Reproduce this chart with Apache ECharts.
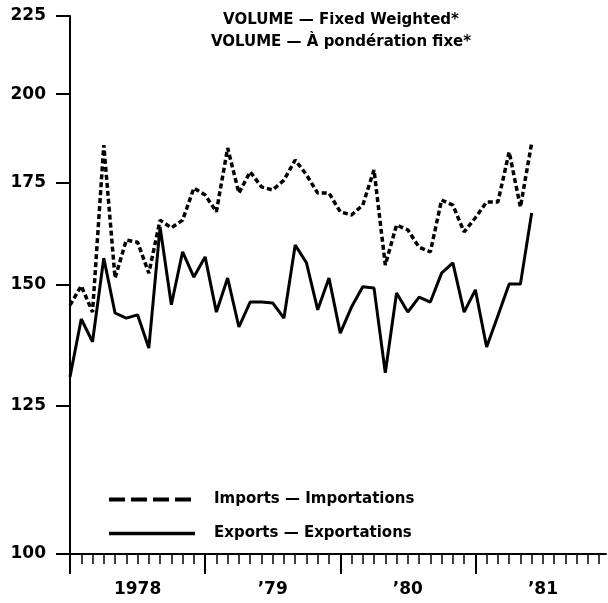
<!DOCTYPE html>
<html>
<head>
<meta charset="utf-8">
<script src="https://cdn.jsdelivr.net/npm/echarts@6/dist/echarts.min.js"></script>
<style>
  html, body { margin: 0; padding: 0; background: #fff; }
  #chart { width: 608px; height: 603px; }
</style>
</head>
<body>
<div id="chart"></div>
<script>
// monthly volume indexes, Jan 1978 .. Jun 1981 (month 0 = Jan 1978)
var importsName = 'Imports — Importations';
var exportsName = 'Exports — Exportations';

var imports = [145.5, 149.8, 144.0, 185.2, 151.6, 160.5, 160.0, 152.7, 165.4, 163.5,
               165.4, 173.6, 171.8, 167.5, 184.4, 172.3, 177.9, 173.9, 173.1, 175.7,
               181.1, 177.1, 172.3, 172.3, 167.5, 166.7, 169.2, 178.4, 154.6, 164.2,
               163.0, 158.8, 157.7, 170.5, 169.2, 162.5, 166.0, 170.0, 170.0, 183.3,
               168.7, 185.8];
var exports_ = [130.6, 142.5, 137.7, 156.2, 143.8, 142.7, 143.4, 136.4, 163.7, 145.6,
                157.7, 151.8, 156.5, 144.0, 151.6, 140.8, 146.2, 146.2, 146.0, 142.7,
                159.3, 155.1, 144.5, 151.6, 139.5, 145.1, 149.6, 149.3, 131.4, 148.2,
                144.0, 147.3, 146.2, 152.7, 155.1, 144.0, 148.9, 136.6, 143.2, 150.2,
                150.2, 167.2];

var yTicks = [100, 125, 150, 175, 200, 225];
var yearLabels = ['1978', '\u201979', '\u201980', '\u201981'];
var yearLabelPos = [6, 18, 30, 42];
var yearTicks = [0, 12, 24, 36];

var monthTicks = [];
for (var m = 0; m < 48; m++) monthTicks.push(m);

function toPairs(arr) {
    return arr.map(function (v, i) { return [i, v]; });
}

var font = 'DejaVu Sans';
var xMin = 0, xMax = 47.6;

var chart = echarts.init(document.getElementById('chart'));
chart.setOption({
    backgroundColor: '#fff',
    animation: false,
    title: {
        text: 'VOLUME — Fixed Weighted*\nVOLUME — À pondération fixe*',
        left: 336,
        top: 4,
        textAlign: 'center',
        textStyle: { fontFamily: font, fontWeight: 'bold', fontSize: 15, color: '#000', lineHeight: 22 }
    },
    legend: {
        orient: 'vertical',
        left: 102,
        top: 487,
        itemWidth: 86,
        itemHeight: 14,
        itemGap: 19,
        selectedMode: false,
        itemStyle: { opacity: 0 },
        textStyle: { fontFamily: font, fontWeight: 'bold', fontSize: 15, color: '#000', padding: [0, 0, 0, 14] },
        data: [
            { name: importsName, lineStyle: { type: [16, 6], width: 4 } },
            { name: exportsName, lineStyle: { width: 3.5 } }
        ]
    },
    grid: { left: 70, right: 2, top: 16, bottom: 49 },
    xAxis: [{
        type: 'value',
        min: xMin,
        max: xMax,
        axisLine: { show: true, onZero: false, lineStyle: { color: '#000', width: 2 } },
        axisTick: { show: true, customValues: monthTicks, length: 10, lineStyle: { color: '#000', width: 1.5 } },
        axisLabel: {
            customValues: yearLabelPos,
            margin: 27,
            fontFamily: font, fontWeight: 'bold', fontSize: 17, color: '#000',
            formatter: function (v) { return yearLabels[yearLabelPos.indexOf(v)]; }
        },
        splitLine: { show: false }
    }, {
        type: 'value',
        position: 'bottom',
        min: xMin,
        max: xMax,
        axisLine: { show: false },
        axisTick: { show: true, customValues: yearTicks, length: 20, lineStyle: { color: '#000', width: 2 } },
        axisLabel: { show: false },
        splitLine: { show: false }
    }],
    yAxis: {
        type: 'log',
        logBase: 10,
        min: 100,
        max: 225,
        axisLine: { show: true, lineStyle: { color: '#000', width: 2 } },
        axisTick: { show: true, customValues: yTicks, length: 14, lineStyle: { color: '#000', width: 2 } },
        axisLabel: {
            customValues: yTicks,
            margin: 24,
            fontFamily: font, fontWeight: 'bold', fontSize: 17, color: '#000'
        },
        splitLine: { show: false }
    },
    series: [{
        name: importsName,
        type: 'line',
        data: toPairs(imports),
        symbol: 'none',
        itemStyle: { color: '#000' },
        lineStyle: { color: '#000', width: 3.5, type: [5, 3] }
    }, {
        name: exportsName,
        type: 'line',
        data: toPairs(exports_),
        symbol: 'none',
        itemStyle: { color: '#000' },
        lineStyle: { color: '#000', width: 3 }
    }]
});
</script>
</body>
</html>
